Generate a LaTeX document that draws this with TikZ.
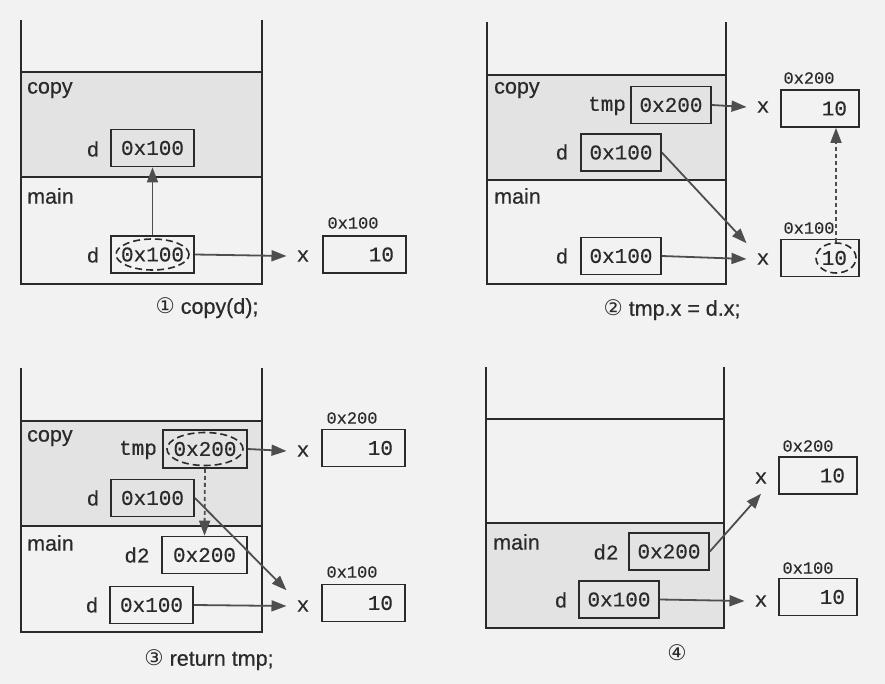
\documentclass[tikz,border=0pt]{standalone}
\usepackage{fontspec}
\setmainfont[FakeBold=0.5]{Liberation Sans}
\newfontfamily\monof[FakeBold=0.3]{Liberation Mono}
\newfontfamily\circf{DejaVu Sans}
\usetikzlibrary{arrows.meta,shapes.geometric}
\definecolor{bg}{HTML}{F2F2F2}
\definecolor{framegray}{HTML}{E3E3E3}
\definecolor{ink}{HTML}{2A2A2A}
\definecolor{arrc}{HTML}{4E4E4E}
\begin{document}
\begin{tikzpicture}[x=1pt,y=-1pt,
  frameline/.style={draw=ink, line width=1.3pt},
  box/.style={draw=ink, line width=1.7pt, inner sep=0pt, text=ink,
    font=\monof\fontsize{21}{25}\selectfont, minimum height=37pt},
  heapA/.style={box, text width=59pt, inner xsep=12pt, align=right},
  heapB/.style={box, text width=54pt, inner xsep=12pt, align=right},
  varlabel/.style={inner sep=0pt, text=ink, font=\monof\fontsize{21}{25}\selectfont},
  xlabel/.style={inner sep=10pt, text=ink, font=\monof\fontsize{21}{25}\selectfont},
  addr/.style={inner sep=0pt, text=ink, font=\monof\fontsize{17}{20}\selectfont},
  sanslabel/.style={inner sep=0pt, anchor=west, text=ink, font=\fontsize{21.5}{25}\selectfont},
  caption/.style={inner sep=0pt, text=ink, font=\fontsize{21.5}{25}\selectfont},
  dashell/.style={ellipse, draw=ink, dash pattern=on 7pt off 4pt, line width=1.6pt, inner sep=0pt},
  arr/.style={draw=arrc, line width=1.8pt, -{Triangle[length=15pt,width=11pt]}},
  darr/.style={arr, dash pattern=on 4pt off 3pt},
]
\useasboundingbox[fill=bg] (0,0) rectangle (885,684);

% ---------------- Panel 1 ----------------
\fill[framegray] (21,72) rectangle (262,177);
\draw[frameline] (21,20) -- (21,284) -- (262,284) -- (262,20);
\draw[frameline] (21,72) -- (262,72);
\draw[frameline] (21,177) -- (262,177);
\node[sanslabel] (p1copy) at (27,90) {copy};
\node[sanslabel] (p1main) at (27,196) {main};
\node[box, minimum width=83pt] (p1cd) at (152.5,148) {0x100};
\node[varlabel] (p1cdl) at (93,149) {d};
\node[box, minimum width=83pt] (p1md) at (152.5,254.5) {0x100};
\node[varlabel] (p1mdl) at (93,255) {d};
\node[dashell, minimum width=73pt, minimum height=31pt] (p1e) at (p1md.center) {};
\node[xlabel] (p1x) at (303,256) {x};
\node[heapA] (p1h) at (364.5,254.5) {10};
\node[addr] (p1ha) at (353,223) {0x100};
\draw[arr] (p1md.north) -- (p1cd.south);
\draw[arr] (p1md.east) -- (p1x.west);
\node[caption] (p1cap) at (207,308) {{\circf ①} copy(d);};

% ---------------- Panel 2 ----------------
\fill[framegray] (487,75) rectangle (726,180);
\draw[frameline] (487,22) -- (487,284) -- (726,284) -- (726,22);
\draw[frameline] (487,75) -- (726,75);
\draw[frameline] (487,180) -- (726,180);
\node[sanslabel] (p2copy) at (494,90) {copy};
\node[sanslabel] (p2main) at (494,196) {main};
\node[box, minimum width=80pt] (p2tmp) at (671,105) {0x200};
\node[varlabel] (p2tmpl) at (607,106) {tmp};
\node[box, minimum width=80pt] (p2cd) at (621,152.5) {0x100};
\node[varlabel] (p2cdl) at (562,152) {d};
\node[box, minimum width=80pt] (p2md) at (621,256) {0x100};
\node[varlabel] (p2mdl) at (562,256) {d};
\node[xlabel] (p2x1) at (763,107) {x};
\node[xlabel] (p2x2) at (763,259) {x};
\node[heapB] (p2h1) at (820,108.5) {10};
\node[addr] (p2h1a) at (809,78) {0x200};
\node[heapB] (p2h2) at (820,258) {10};
\node[addr] (p2h2a) at (809,228) {0x100};
\node[dashell, minimum width=40pt, minimum height=30pt] (p2e) at (836,258) {};
\draw[arr] (p2tmp.east) -- (p2x1.west);
\draw[arr] (p2cd.east) -- (p2x2.north west);
\draw[arr] (p2md.east) -- (p2x2.west);
\draw[darr] (p2e.north) -- (p2e.north |- p2h1.south);
\node[caption] (p2cap) at (672,310) {{\circf ②} tmp.x = d.x;};

% ---------------- Panel 3 ----------------
\fill[framegray] (21,421) rectangle (262,526);
\draw[frameline] (21,368) -- (21,632) -- (262,632) -- (262,368);
\draw[frameline] (21,421) -- (262,421);
\draw[frameline] (21,526) -- (262,526);
\node[sanslabel] (p3copy) at (27,438) {copy};
\node[sanslabel] (p3main) at (27,543) {main};
\node[box, minimum width=84pt, minimum height=38pt] (p3tmp) at (205,449) {0x200};
\node[varlabel] (p3tmpl) at (138,450) {tmp};
\node[dashell, minimum width=76pt, minimum height=33pt] (p3e) at (p3tmp.center) {};
\node[box, minimum width=83pt] (p3cd) at (152.5,498) {0x100};
\node[varlabel] (p3cdl) at (93,498) {d};
\node[box, minimum width=85pt] (p3d2) at (204.5,555) {0x200};
\node[varlabel] (p3d2l) at (137,555) {d2};
\node[box, minimum width=83pt] (p3md) at (151.5,605) {0x100};
\node[varlabel] (p3mdl) at (92,605) {d};
\node[xlabel] (p3x1) at (303,451) {x};
\node[xlabel] (p3x2) at (303,606) {x};
\node[heapA] (p3h1) at (363.5,448) {10};
\node[addr] (p3h1a) at (352,418) {0x200};
\node[heapA] (p3h2) at (363.5,603) {10};
\node[addr] (p3h2a) at (352,572) {0x100};
\draw[arr] (p3tmp.east) -- (p3x1.west);
\draw[darr] (p3tmp.south) -- (p3d2.north);
\draw[arr] (p3cd.east) -- (p3x2.north west);
\draw[arr] (p3md.east) -- (p3x2.west);
\node[caption] (p3cap) at (209,660) {{\circf ③} return tmp;};

% ---------------- Panel 4 ----------------
\fill[framegray] (486,523) rectangle (724,628);
\draw[frameline] (486,367) -- (486,628) -- (724,628) -- (724,367);
\draw[frameline] (486,419) -- (724,419);
\draw[frameline] (486,523) -- (724,523);
\node[sanslabel] (p4main) at (493,542) {main};
\node[box, minimum width=80pt] (p4d2) at (669,551.5) {0x200};
\node[varlabel] (p4d2l) at (606,552) {d2};
\node[box, minimum width=80pt] (p4md) at (619,599.5) {0x100};
\node[varlabel] (p4mdl) at (561,600) {d};
\node[xlabel] (p4x1) at (761,478) {x};
\node[xlabel] (p4x2) at (761,601) {x};
\node[heapB] (p4h1) at (818,475.5) {10};
\node[addr] (p4h1a) at (808,446) {0x200};
\node[heapB] (p4h2) at (818,597) {10};
\node[addr] (p4h2a) at (808,568) {0x100};
\draw[arr] (p4d2.east) -- (p4x1.south);
\draw[arr] (p4md.east) -- (p4x2.west);
\node[caption] (p4cap) at (677,653) {{\circf ④}};
\end{tikzpicture}
\end{document}
